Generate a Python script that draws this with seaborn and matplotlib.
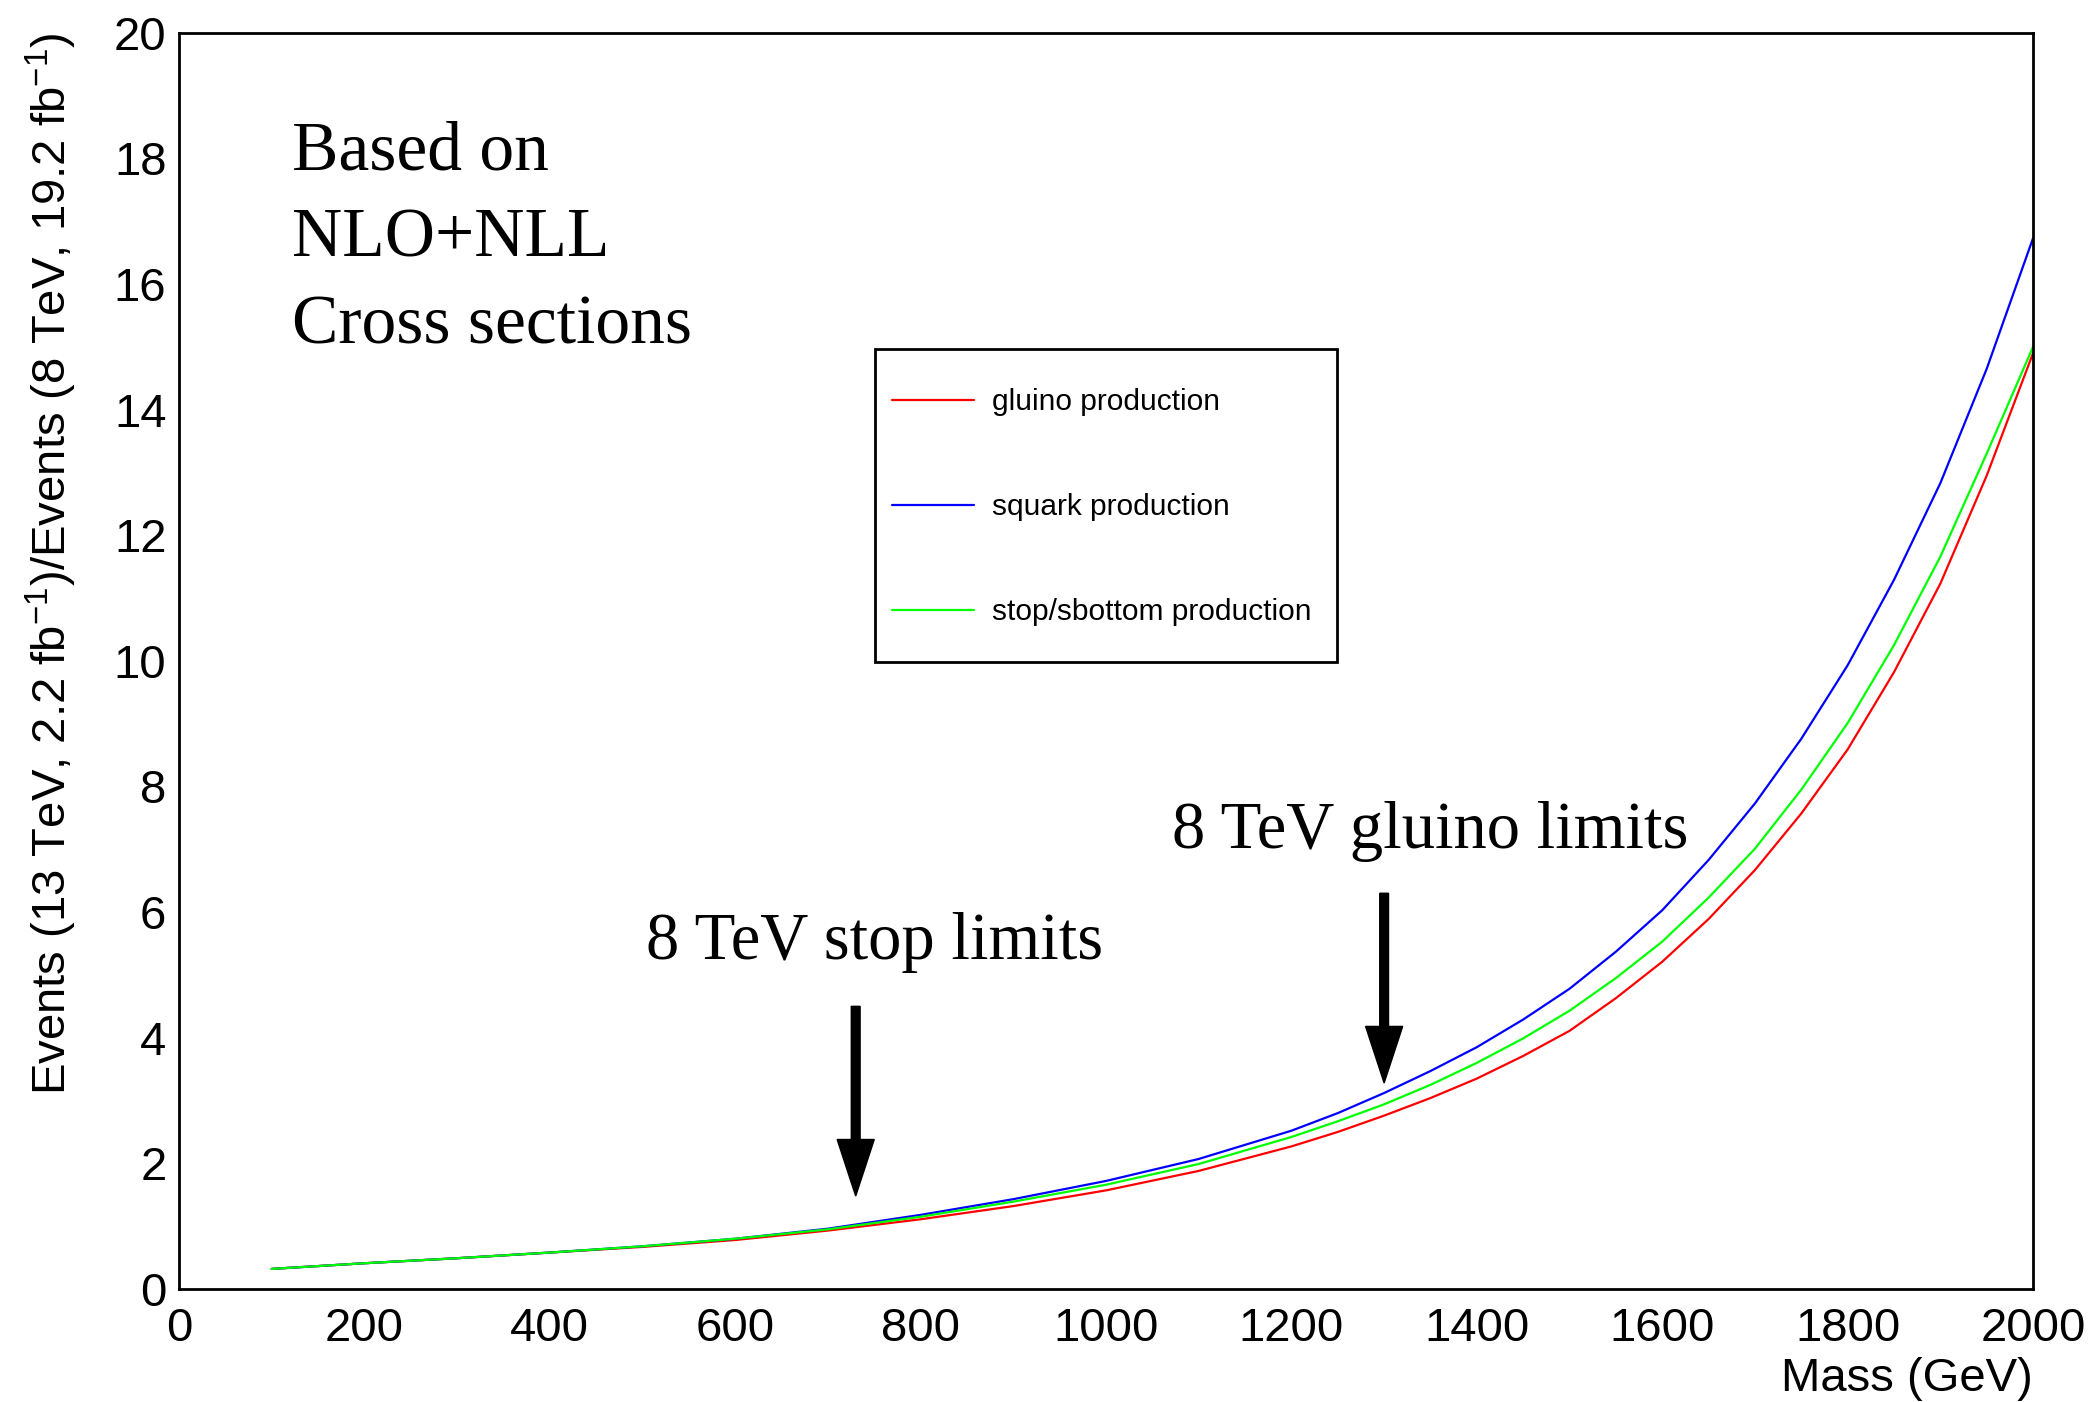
import numpy as np
import pandas as pd
import seaborn as sns
import matplotlib
matplotlib.use("Agg")
import matplotlib.pyplot as plt
from matplotlib.ticker import MultipleLocator
from matplotlib.patches import Rectangle

# ─────────────────────────────────────────────
# DATA
# ─────────────────────────────────────────────
mass = [100, 200, 300, 400, 500, 600, 700, 800, 900, 1000, 1100, 1200, 1250,
        1300, 1350, 1400, 1450, 1500, 1550, 1600, 1650, 1700, 1750, 1800,
        1850, 1900, 1950, 2000]

gluino = [0.32, 0.41, 0.49, 0.58, 0.67, 0.78, 0.93, 1.11, 1.32, 1.57, 1.88, 2.27, 2.50,
          2.76, 3.04, 3.35, 3.71, 4.11, 4.63, 5.21, 5.89, 6.67, 7.57, 8.59,
          9.82, 11.23, 12.95, 14.9]
squark = [0.32, 0.41, 0.49, 0.58, 0.68, 0.80, 0.96, 1.18, 1.43, 1.72, 2.07, 2.52, 2.80,
          3.12, 3.47, 3.85, 4.29, 4.78, 5.37, 6.03, 6.83, 7.73, 8.76, 9.93,
          11.29, 12.83, 14.65, 16.73]
stop = [0.32, 0.41, 0.49, 0.58, 0.68, 0.80, 0.95, 1.15, 1.39, 1.66, 1.99, 2.42, 2.67,
        2.94, 3.25, 3.60, 3.99, 4.43, 4.95, 5.53, 6.23, 7.01, 7.95, 9.01,
        10.25, 11.66, 13.30, 15.0]

series_names = ["gluino production", "squark production", "stop/sbottom production"]
series_colors = ["#ff0000", "#0000ff", "#00ff00"]

# arrows: (mass, top, tip)
arrow_mass = [730, 1300]
arrow_top = [4.5, 6.3]
arrow_tip = [1.48, 3.28]

df = pd.DataFrame({
    "mass": mass * 3,
    "ratio": gluino + squark + stop,
    "process": [series_names[0]] * len(mass) + [series_names[1]] * len(mass) + [series_names[2]] * len(mass),
})

# ─────────────────────────────────────────────
# STYLE
# ─────────────────────────────────────────────
sns.set_theme(style="white")
plt.rcParams["font.family"] = ["Liberation Sans", "DejaVu Sans"]
plt.rcParams["mathtext.fontset"] = "custom"
plt.rcParams["mathtext.rm"] = "Liberation Sans"
plt.rcParams["mathtext.it"] = "Liberation Sans:italic"
plt.rcParams["text.color"] = "black"
plt.rcParams["axes.labelcolor"] = "black"

fig = plt.figure(figsize=(20.88, 14.02), dpi=100)
ax = fig.add_axes([0.0857, 0.0806, 0.888, 0.8961])

sns.lineplot(data=df, x="mass", y="ratio", hue="process",
             hue_order=series_names, palette=series_colors,
             linewidth=1.6, ax=ax)

ax.set_xlim(0, 2000)
ax.set_ylim(0, 20)

ax.xaxis.set_major_locator(MultipleLocator(200))
ax.xaxis.set_minor_locator(MultipleLocator(50))
ax.yaxis.set_major_locator(MultipleLocator(2))
ax.yaxis.set_minor_locator(MultipleLocator(0.5))

ax.tick_params(axis="both", which="both", direction="in", top=False, right=False,
               width=1.5, colors="black", labelsize=34)
ax.tick_params(axis="x", which="major", length=27, pad=13)
ax.tick_params(axis="x", which="minor", length=14)
ax.tick_params(axis="y", which="major", length=40, pad=9)
ax.tick_params(axis="y", which="minor", length=21)

for s in ax.spines.values():
    s.set_visible(True)
    s.set_linewidth(2)
    s.set_color("black")

ax.set_xlabel("Mass (GeV)", fontsize=34, loc="right", labelpad=4)
ax.set_ylabel("Events (13 TeV, 2.2 fb$^{-1}$)/Events (8 TeV, 19.2 fb$^{-1}$)",
              fontsize=34, loc="top")
ax.yaxis.set_label_coords(-0.054, 1.0)

# text notes
serif = ["Liberation Serif", "DejaVu Serif"]
ax.text(122, 17.82, "Based on", family=serif, fontsize=50, va="baseline")
ax.text(122, 16.43, "NLO+NLL", family=serif, fontsize=50, va="baseline")
ax.text(122, 15.05, "Cross sections", family=serif, fontsize=50, va="baseline")
ax.text(504, 5.25, "8 TeV stop limits", family=serif, fontsize=48, va="baseline")
ax.text(1071, 7.02, "8 TeV gluino limits", family=serif, fontsize=48, va="baseline")

for m, top, tip in zip(arrow_mass, arrow_top, arrow_tip):
    ax.arrow(m, top, 0, tip - top, width=9.5, head_width=40, head_length=0.9,
             length_includes_head=True, color="black", zorder=5)

# legend: frame drawn as its own box, entries placed inside
ax.add_patch(Rectangle((0.3754, 0.4992), 0.2492, 0.2492, transform=ax.transAxes,
                       facecolor="white", edgecolor="black", linewidth=2, zorder=6))
leg = ax.legend(loc="upper left", bbox_to_anchor=(0.3846, 0.7170),
                fontsize=21.5, frameon=False, borderpad=0, labelspacing=2.58,
                handlelength=2.75, handletextpad=0.6, borderaxespad=0)
leg.set_zorder(7)
for line in leg.get_lines():
    line.set_linewidth(1.6)

fig.savefig("out.png", dpi=100)
